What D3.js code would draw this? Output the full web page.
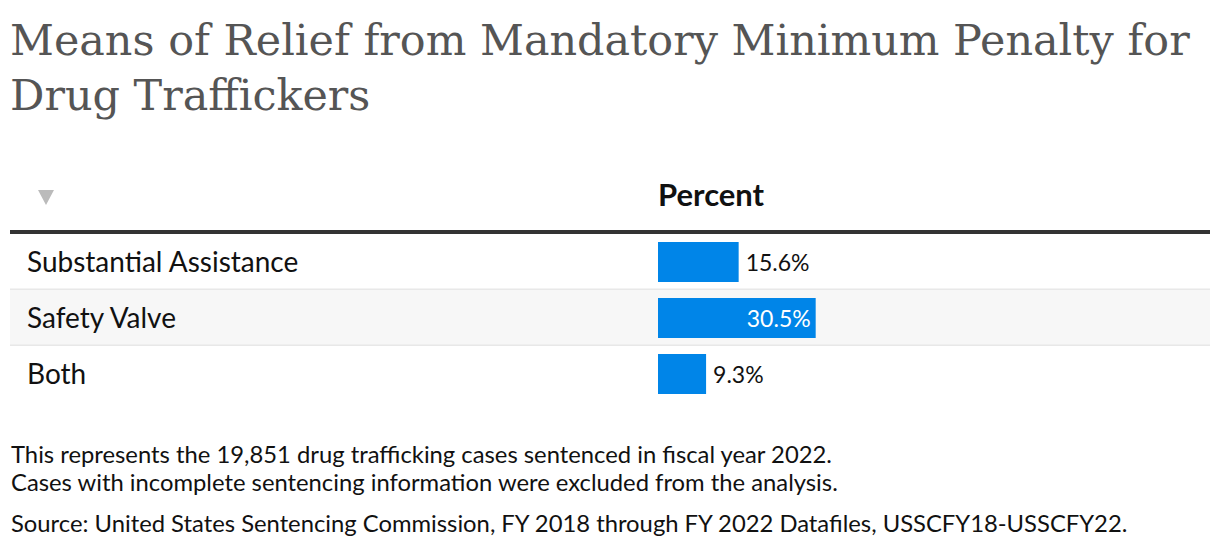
<!DOCTYPE html>
<html>
<head>
<meta charset="utf-8">
<script src="https://cdn.jsdelivr.net/npm/d3@7"></script>
<style>
  body { margin: 0; background: #fff; }
  svg { display: block; }
</style>
</head>
<body>
<svg width="1220" height="550"></svg>
<script>
var categories = ["Substantial Assistance", "Safety Valve", "Both"];
var percents = [15.6, 30.5, 9.3];
var titleLines = ["Means of Relief from Mandatory Minimum Penalty for", "Drug Traffickers"];
var columnLabel = "Percent";
var notes = [
  "This represents the 19,851 drug trafficking cases sentenced in fiscal year 2022.",
  "Cases with incomplete sentencing information were excluded from the analysis."
];
var source = "Source: United States Sentencing Commission, FY 2018 through FY 2022 Datafiles, USSCFY18-USSCFY22.";

var svg = d3.select("svg");
var sans = "Lato, 'Noto Sans', sans-serif";

// title
var title = svg.append("g");
title.selectAll("text")
  .data(titleLines)
  .enter()
  .append("text")
  .attr("x", 10)
  .attr("y", function (d, i) { return 55 + i * 55; })
  .attr("font-family", "'DejaVu Serif', serif")
  .attr("font-size", "44px")
  .attr("fill", "#555")
  .text(function (d) { return d; });

// fit first title line to its width in the reference
var t0 = title.select("text").node();
var w0 = t0.getComputedTextLength();
var fs = 44 * 1180 / w0;
title.selectAll("text").attr("font-size", fs + "px");

// header
var xScale = d3.scaleLinear().domain([0, 100]).range([0, 517]);
var yScale = d3.scaleBand().domain(categories).range([234, 402]).padding(0);
var barX = 658;

svg.append("path")
  .attr("d", "M38,190 L54,190 L46,205 Z")
  .attr("fill", "#bbb");

svg.append("text")
  .attr("x", barX)
  .attr("y", 206)
  .attr("font-family", sans)
  .attr("font-weight", "bold")
  .attr("font-size", "31px")
  .attr("fill", "#111")
  .text(columnLabel);

// rows
var rows = svg.selectAll(".row")
  .data(categories)
  .enter()
  .append("g")
  .attr("class", "row");

rows.append("rect")
  .attr("x", 10)
  .attr("y", function (d) { return yScale(d); })
  .attr("width", 1200)
  .attr("height", yScale.bandwidth())
  .attr("fill", function (d, i) { return i % 2 === 1 ? "#f7f7f7" : "#fff"; });

rows.filter(function (d, i) { return i < categories.length - 1; })
  .append("rect")
  .attr("x", 10)
  .attr("y", function (d) { return yScale(d) + yScale.bandwidth() - 1.5; })
  .attr("width", 1200)
  .attr("height", 2)
  .attr("fill", "#e8e8e8");

rows.append("text")
  .attr("x", 27)
  .attr("y", function (d) { return yScale(d) + yScale.bandwidth() / 2 + 10; })
  .attr("font-family", sans)
  .attr("font-size", "28px")
  .attr("fill", "#111")
  .text(function (d) { return d; });

rows.append("rect")
  .attr("class", "bar")
  .attr("x", barX)
  .attr("y", function (d) { return yScale(d) + 8; })
  .attr("width", function (d, i) { return xScale(percents[i]); })
  .attr("height", 40)
  .attr("fill", "#0085e8");

rows.append("text")
  .attr("x", function (d, i) {
    var w = xScale(percents[i]);
    return w > 100 ? barX + w - 5 : barX + w + 7;
  })
  .attr("y", function (d) { return yScale(d) + yScale.bandwidth() / 2 + 9; })
  .attr("text-anchor", function (d, i) { return xScale(percents[i]) > 100 ? "end" : "start"; })
  .attr("font-family", sans)
  .attr("font-size", "23px")
  .attr("fill", function (d, i) { return xScale(percents[i]) > 100 ? "#fff" : "#111"; })
  .text(function (d, i) { return percents[i].toFixed(1) + "%"; });

// thick header rule
svg.append("rect")
  .attr("x", 10)
  .attr("y", 230)
  .attr("width", 1200)
  .attr("height", 4)
  .attr("fill", "#333");

// notes
svg.selectAll(".note")
  .data(notes)
  .enter()
  .append("text")
  .attr("class", "note")
  .attr("x", 11)
  .attr("y", function (d, i) { return 463 + i * 28; })
  .attr("font-family", sans)
  .attr("font-size", "23.8px")
  .attr("fill", "#111")
  .text(function (d) { return d; });

svg.append("text")
  .attr("x", 11)
  .attr("y", 532)
  .attr("font-family", sans)
  .attr("font-size", "23.8px")
  .attr("fill", "#111")
  .text(source);
</script>
</body>
</html>
